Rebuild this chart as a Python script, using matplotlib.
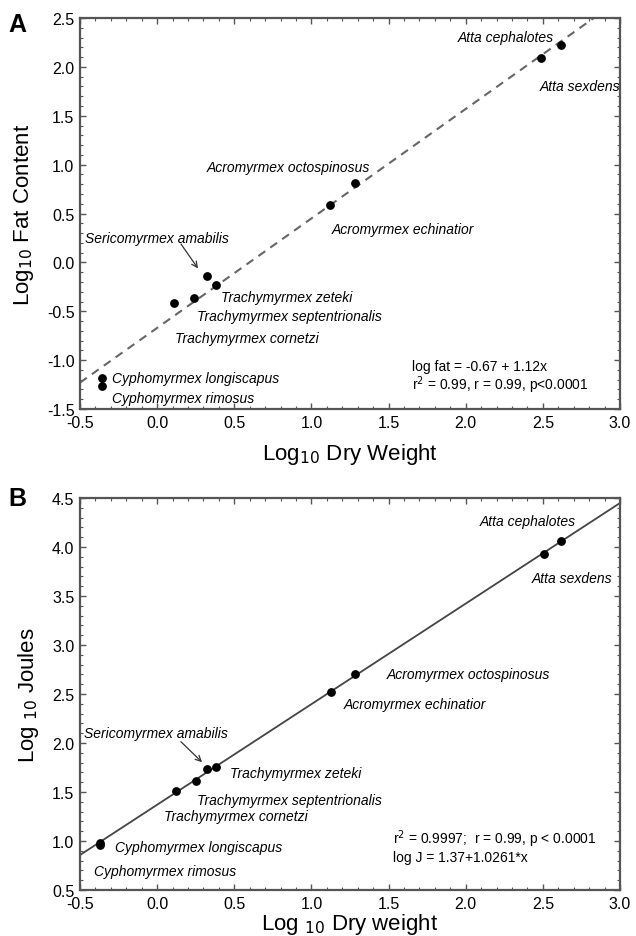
import matplotlib
matplotlib.use("Agg")
import matplotlib.pyplot as plt
import numpy as np
from matplotlib.ticker import MultipleLocator

plt.rcParams['font.family'] = ['Liberation Sans', 'DejaVu Sans']

species = ['Atta cephalotes', 'Atta sexdens', 'Acromyrmex octospinosus',
           'Acromyrmex echinatior', 'Sericomyrmex amabilis', 'Trachymyrmex zeteki',
           'Trachymyrmex septentrionalis', 'Trachymyrmex cornetzi',
           'Cyphomyrmex longiscapus', 'Cyphomyrmex rimosus']

# panel A: log10 dry weight vs log10 fat content
dry_a = [2.62, 2.49, 1.28, 1.12, 0.32, 0.38, 0.24, 0.11, -0.36, -0.36]
fat = [2.22, 2.09, 0.81, 0.59, -0.14, -0.23, -0.36, -0.42, -1.18, -1.26]

# panel B: log10 dry weight vs log10 joules
dry_b = [2.62, 2.51, 1.28, 1.13, 0.32, 0.38, 0.25, 0.12, -0.37, -0.37]
joules = [4.06, 3.93, 2.70, 2.52, 1.73, 1.76, 1.61, 1.51, 0.98, 0.96]

fit_a = (-0.67, 1.12)
fit_b = (1.37, 1.0261)

# label positions (x, y, ha)
labels_a = [(2.26, 2.31, 'center'), (2.74, 1.80, 'center'), (0.85, 0.98, 'center'),
            (1.59, 0.34, 'center'), (0.0, 0.25, 'center'), (0.84, -0.35, 'center'),
            (0.86, -0.55, 'center'), (0.58, -0.77, 'center'), (-0.29, -1.18, 'left'),
            (-0.29, -1.39, 'left')]
labels_b = [(2.40, 4.26, 'center'), (2.69, 3.68, 'center'), (2.02, 2.70, 'center'),
            (1.67, 2.40, 'center'), (-0.01, 2.10, 'center'), (0.90, 1.69, 'center'),
            (0.86, 1.42, 'center'), (0.51, 1.25, 'center'), (-0.27, 0.94, 'left'),
            (-0.41, 0.69, 'left')]

fig = plt.figure(figsize=(6.36, 9.37), dpi=100)
ax_a = fig.add_axes([0.1258, 0.5624, 0.849, 0.4173])
ax_b = fig.add_axes([0.1258, 0.0491, 0.849, 0.4184])

line_col = '#555555'


def style(ax, ylo, yhi):
    ax.set_xlim(-0.5, 3.0)
    ax.set_ylim(ylo, yhi)
    ax.xaxis.set_major_locator(MultipleLocator(0.5))
    ax.yaxis.set_major_locator(MultipleLocator(0.5))
    ax.xaxis.set_minor_locator(MultipleLocator(0.1))
    ax.yaxis.set_minor_locator(MultipleLocator(0.1))
    ax.xaxis.set_major_formatter(plt.FormatStrFormatter('%.1f'))
    ax.yaxis.set_major_formatter(plt.FormatStrFormatter('%.1f'))
    ax.tick_params(which='both', direction='in', top=True, right=True,
                   color=line_col, labelsize=11.5, pad=4)
    ax.tick_params(which='major', length=4, width=1)
    ax.tick_params(which='minor', length=2.5, width=0.8)
    for s in ax.spines.values():
        s.set_color(line_col)
        s.set_linewidth(1.6)


# panel A
style(ax_a, -1.5, 2.5)
xs = np.array([-0.5, 3.0])
ax_a.plot(xs, fit_a[0] + fit_a[1] * xs, ls=(0, (4, 3)), color='#666666', lw=1.5)
ax_a.scatter(dry_a, fat, s=28, color='black', zorder=3)
for name, (x, y, ha) in zip(species, labels_a):
    ax_a.text(x, y, name, style='italic', fontsize=10, ha=ha, va='center')
ax_a.annotate('', xy=(0.275, -0.085), xytext=(0.144, 0.212),
              arrowprops=dict(arrowstyle='->', color='#333333', lw=0.9))
ax_a.text(1.65, -1.06, 'log fat = -0.67 + 1.12x', fontsize=10, va='center')
ax_a.text(1.65, -1.245, 'r$^2$ = 0.99, r = 0.99, p<0.0001', fontsize=10, va='center')
ax_a.set_xlabel('Log$_{10}$ Dry Weight', fontsize=16, labelpad=8)
ax_a.set_ylabel('Log$_{10}$ Fat Content', fontsize=16, labelpad=8)

# panel B
style(ax_b, 0.5, 4.5)
ax_b.plot(xs, fit_b[0] + fit_b[1] * xs, color='#444444', lw=1.3)
ax_b.scatter(dry_b, joules, s=28, color='black', zorder=3)
for name, (x, y, ha) in zip(species, labels_b):
    ax_b.text(x, y, name, style='italic', fontsize=10, ha=ha, va='center')
ax_b.annotate('', xy=(0.304, 1.784), xytext=(0.141, 2.033),
              arrowprops=dict(arrowstyle='->', color='#333333', lw=0.9))
ax_b.text(1.53, 1.03, 'r$^2$ = 0.9997;  r = 0.99, p < 0.0001', fontsize=10, va='center')
ax_b.text(1.53, 0.84, 'log J = 1.37+1.0261*x', fontsize=10, va='center')
ax_b.set_xlabel('Log $_{10}$ Dry weight', fontsize=16, labelpad=0)
ax_b.set_ylabel('Log $_{10}$ Joules', fontsize=16, labelpad=8)

fig.text(0.013, 0.973, 'A', fontsize=18, fontweight='bold', va='center')
fig.text(0.013, 0.467, 'B', fontsize=18, fontweight='bold', va='center')

fig.savefig('out.png', dpi=100)
